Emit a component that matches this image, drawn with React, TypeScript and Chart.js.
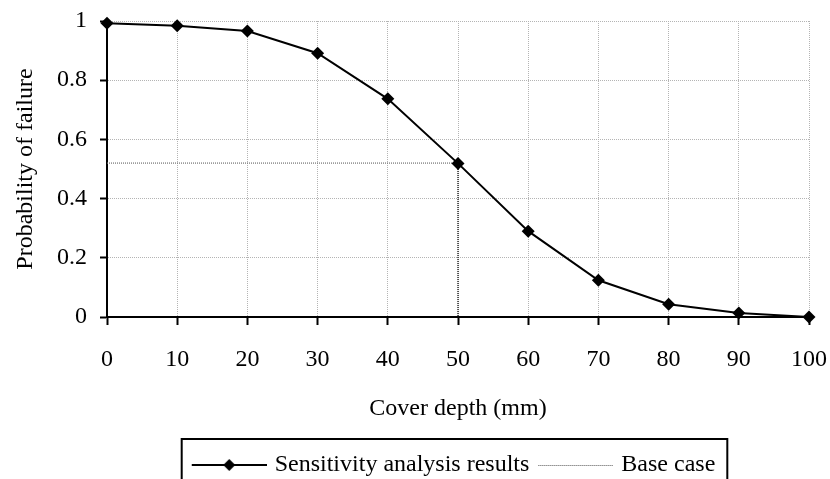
import React, { useEffect, useRef } from "react";
import { Chart, registerables } from "chart.js";

Chart.register(...registerables);

// ---- data ----
const coverDepth = [0, 10, 20, 30, 40, 50, 60, 70, 80, 90, 100];
const failureProbability = [0.992, 0.984, 0.966, 0.891, 0.737, 0.519, 0.29, 0.124, 0.043, 0.0135, 0.0];
const baseCaseDepth = [0, 50, 50];
const baseCaseProbability = [0.52, 0.52, 0];
const xTickValues = [0, 10, 20, 30, 40, 50, 60, 70, 80, 90, 100];
const xTickLabels = ["0", "10", "20", "30", "40", "50", "60", "70", "80", "90", "100"];
const yTickValues = [0, 0.2, 0.4, 0.6, 0.8, 1];
const yTickLabels = ["0", "0.2", "0.4", "0.6", "0.8", "1"];
const seriesNames = ["Sensitivity analysis results", "Base case"];
const xTitle = "Cover depth (mm)";
const yTitle = "Probability of failure";

const FONT = "'Liberation Serif', 'Times New Roman', serif";

function makeLegendImage(kind: "series" | "base"): HTMLCanvasElement {
  const c = document.createElement("canvas");
  c.width = 78;
  c.height = 14;
  const g = c.getContext("2d")!;
  if (kind === "series") {
    g.strokeStyle = "#000";
    g.lineWidth = 2;
    g.beginPath();
    g.moveTo(3, 7);
    g.lineTo(78, 7);
    g.stroke();
    g.fillStyle = "#000";
    g.beginPath();
    g.moveTo(40.5, 1);
    g.lineTo(46.5, 7);
    g.lineTo(40.5, 13);
    g.lineTo(34.5, 7);
    g.closePath();
    g.fill();
  } else {
    g.strokeStyle = "#555";
    g.lineWidth = 1;
    g.setLineDash([1, 1]);
    g.beginPath();
    g.moveTo(3, 7.5);
    g.lineTo(78, 7.5);
    g.stroke();
  }
  return c;
}

export default function App() {
  const ref = useRef<HTMLCanvasElement | null>(null);

  useEffect(() => {
    if (!ref.current) return;
    Chart.defaults.font.family = FONT;
    Chart.defaults.font.size = 24;
    Chart.defaults.color = "#000";

    const seriesImg = makeLegendImage("series");
    const baseImg = makeLegendImage("base");

    const legendShift = {
      id: "legendShift",
      afterLayout(chart: any) {
        const lg = chart.legend;
        const ca = chart.chartArea;
        if (!lg || !ca) return;
        const c = (ca.left + ca.right) / 2 - 4;
        const half = (lg.right - lg.left) / 2;
        lg.left = c - half;
        lg.right = c + half;
      },
      afterDraw(chart: any) {
        const lg = chart.legend;
        const hb = lg && lg.legendHitBoxes;
        if (!hb || hb.length < 2) return;
        const ctx = chart.ctx;
        const left = hb[0].left - 11;
        const right = hb[hb.length - 1].left + hb[hb.length - 1].width + 12;
        const top = lg.top - 4;
        const bottom = lg.bottom + 20;
        ctx.save();
        ctx.strokeStyle = "#000";
        ctx.lineWidth = 2;
        ctx.strokeRect(left, top, right - left, bottom - top);
        ctx.restore();
      },
    };

    const gridCommon = {
      color: "#b4b4b4",
      lineWidth: 1,
      tickColor: "#000",
      tickWidth: 2,
      tickBorderDash: [],
    };

    const chart = new Chart(ref.current, {
      type: "line",
      data: {
        datasets: [
          {
            label: seriesNames[0],
            data: coverDepth.map((x, i) => ({ x, y: failureProbability[i] })),
            borderColor: "#000",
            backgroundColor: "#000",
            borderWidth: 2,
            pointStyle: "rectRot",
            pointRadius: 6.5,
            pointBackgroundColor: "#000",
            pointBorderColor: "#000",
            pointBorderWidth: 0,
            tension: 0,
            clip: false,
          },
          {
            label: seriesNames[1],
            data: baseCaseDepth.map((x, i) => ({ x, y: baseCaseProbability[i] })),
            borderColor: "#808080",
            borderWidth: 1,
            borderDash: [1, 1],
            pointRadius: 0,
            tension: 0,
            segment: {
              borderColor: (c: any) => (c.p0DataIndex === 1 ? "#202020" : "#707070"),
              borderWidth: (c: any) => (c.p0DataIndex === 1 ? 1.5 : 1.2),
            },
          },
        ],
      },
      options: {
        responsive: false,
        animation: false,
        events: [],
        layout: { padding: { top: 21, right: 21, left: 0, bottom: 0 } },
        plugins: {
          tooltip: { enabled: false },
          legend: {
            position: "bottom",
            labels: {
              usePointStyle: true,
              pointStyleWidth: 70,
              padding: 10,
              color: "#000",
              font: { family: FONT, size: 24 },
              generateLabels: () => [
                { text: seriesNames[0], pointStyle: seriesImg, fillStyle: "#000", strokeStyle: "#000", lineWidth: 0, hidden: false, datasetIndex: 0 },
                { text: seriesNames[1], pointStyle: baseImg, fillStyle: "#777", strokeStyle: "#777", lineWidth: 0, hidden: false, datasetIndex: 1 },
              ],
            },
          },
        },
        scales: {
          x: {
            type: "linear",
            min: 0,
            max: 100,
            afterFit: (s: any) => {
              s.height = 126;
              s.paddingLeft = 0;
              s.paddingRight = 0;
            },
            afterBuildTicks: (s: any) => {
              s.ticks = xTickValues.map((v) => ({ value: v }));
            },
            ticks: {
              padding: 20,
              maxRotation: 0,
              font: { family: FONT, size: 24 },
              color: "#000",
              callback: (v: any) => {
                const i = xTickValues.indexOf(Number(v));
                return i >= 0 ? xTickLabels[i] : "";
              },
            },
            grid: { ...gridCommon, tickLength: 8 },
            border: { display: true, color: "#000", width: 2, dash: [1, 1] },
            title: {
              display: true,
              text: xTitle,
              color: "#000",
              font: { family: FONT, size: 24 },
              padding: { top: 0, bottom: 20 },
            },
          },
          y: {
            type: "linear",
            min: 0,
            max: 1,
            afterFit: (s: any) => {
              s.width = 107;
              s.paddingTop = 0;
              s.paddingBottom = 0;
            },
            afterBuildTicks: (s: any) => {
              s.ticks = yTickValues.map((v) => ({ value: v }));
            },
            ticks: {
              padding: 13,
              font: { family: FONT, size: 24 },
              color: "#000",
              callback: (v: any) => {
                const i = yTickValues.findIndex((t) => Math.abs(t - Number(v)) < 1e-9);
                return i >= 0 ? yTickLabels[i] : "";
              },
            },
            grid: { ...gridCommon, tickLength: 7 },
            border: { display: true, color: "#000", width: 2, dash: [1, 1] },
            title: {
              display: true,
              text: yTitle,
              color: "#000",
              font: { family: FONT, size: 24 },
              padding: { top: 11, bottom: 0 },
            },
          },
        },
      },
      plugins: [legendShift],
    } as any);

    return () => chart.destroy();
  }, []);

  return (
    <div style={{ position: "fixed", left: 0, top: 0, width: 830, height: 479, overflow: "hidden", background: "#fff" }}>
      <canvas ref={ref} width={830} height={487} style={{ display: "block", width: 830, height: 487 }} />
    </div>
  );
}
